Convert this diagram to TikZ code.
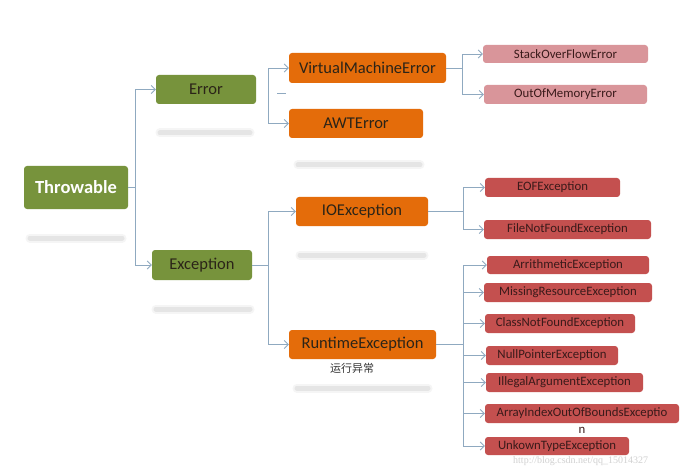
\documentclass[tikz,border=0pt]{standalone}
\usepackage{fontspec}
\setmainfont{Carlito}
\newfontfamily\cjk{Noto Sans CJK SC}
\newfontfamily\wmfont{Liberation Serif}
\usetikzlibrary{arrows.meta}
\definecolor{cgreen}{HTML}{77933C}
\definecolor{corange}{HTML}{E46C0A}
\definecolor{cpink}{HTML}{D9959A}
\definecolor{cred}{HTML}{C4504F}
\definecolor{cline}{HTML}{8FA9C0}
\definecolor{ctext}{HTML}{2B2418}
\definecolor{cleaf}{HTML}{3A1A1A}
\tikzset{
  box/.style={rounded corners=3pt, inner sep=0pt, align=center},
  greenbox/.style={box, fill=cgreen, text=ctext, font=\fontsize{16.5}{18}\selectfont},
  orangebox/.style={box, fill=corange, text=ctext, font=\fontsize{16.5}{18}\selectfont},
  pinkbox/.style={box, fill=cpink, text=cleaf, font=\fontsize{12.8}{14}\selectfont},
  redbox/.style={box, fill=cred, text=cleaf, font=\fontsize{12.8}{14}\selectfont},
  conn/.style={draw=cline, line width=0.9pt},
  arr/.style={conn, -{Straight Barb[length=4pt,width=8pt]}},
  sbar/.style={line cap=round}
}
\begin{document}
\begin{tikzpicture}[x=1pt,y=-1pt]
\useasboundingbox[fill=white] (0,0) rectangle (692,470);
% soft reflections
\foreach \xa/\xb/\yy in {30/122/238, 160/250/133, 156/250/309, 298/420/165, 300/424/255, 297/428/388}{
  \draw[sbar, line width=9pt, gray!8] (\xa,\yy) -- (\xb,\yy);
  \draw[sbar, line width=5pt, gray!20] (\xa,\yy) -- (\xb,\yy);
}
% nodes
\node[greenbox, minimum width=104pt, minimum height=43pt, text=white, font=\fontsize{18.5}{20}\selectfont\bfseries] (throw) at (76,187.5) {Throwable};
\node[greenbox, minimum width=100pt, minimum height=29pt] (error) at (206,89.5) {Error};
\node[greenbox, minimum width=100pt, minimum height=30pt] (exc) at (202,265) {Exception};
\node[orangebox, minimum width=157pt, minimum height=30pt] (vme) at (367.5,68) {VirtualMachineError};
\node[orangebox, minimum width=134pt, minimum height=29pt] (awt) at (356,123.5) {AWTError};
\node[orangebox, minimum width=132pt, minimum height=29pt] (io) at (362,211.5) {IOException};
\node[orangebox, minimum width=147pt, minimum height=29pt] (rt) at (362.5,344.5) {RuntimeException};
\node[font=\cjk\fontsize{11}{12}\selectfont, text=black!80] (rtlabel) at (352,368) {运行异常};
\node[pinkbox, minimum width=165pt, minimum height=18pt] (sofe) at (565.5,54) {StackOverFlowError};
\node[pinkbox, minimum width=163pt, minimum height=19pt] (oome) at (565.5,94.5) {OutOfMemoryError};
\node[redbox, minimum width=135pt, minimum height=19pt] (eof) at (552.5,187.5) {EOFException};
\node[redbox, minimum width=167pt, minimum height=19pt] (fnf) at (567.5,229.5) {FileNotFoundException};
\node[redbox, minimum width=162pt, minimum height=18pt] (arith) at (568,265) {ArrithmeticException};
\node[redbox, minimum width=168pt, minimum height=19pt] (miss) at (568,292.5) {MissingResourceException};
\node[redbox, minimum width=150pt, minimum height=19pt] (cnf) at (560,323.5) {ClassNotFoundException};
\node[redbox, minimum width=132pt, minimum height=19pt] (npe) at (552,355.5) {NullPointerException};
\node[redbox, minimum width=157pt, minimum height=19pt] (iae) at (564.5,382.5) {IllegalArgumentException};
\node[redbox, minimum width=194pt, minimum height=19pt] (aio) at (582,413.5) {ArrayIndexOutOfBoundsExceptio};
\node[font=\fontsize{12.8}{14}\selectfont, text=cleaf] (aion) at (582,430) {n};
\node[redbox, minimum width=144pt, minimum height=18pt] (ute) at (557,446) {UnkownTypeException};
\node[font=\wmfont\fontsize{10}{11}\selectfont, text=black!18, anchor=west, inner sep=1pt] (wm) at (512,461) {http://blog.csdn.net/qq\_15014327};
% junctions
\coordinate (tj) at (135,187.5);
\coordinate (ej) at (268,96);
\coordinate (d1) at (277,93);
\coordinate (d2) at (286,93);
\coordinate (xj) at (268,265);
\coordinate (vj) at (462,68);
\coordinate (ij) at (463,211.5);
\coordinate (rj) at (463,344.5);
% connectors
\draw[conn] (throw.east) -- (tj);
\draw[arr] (tj) |- (error.west);
\draw[arr] (tj) |- (exc.west);
\draw[arr] (ej) |- (vme.west);
\draw[arr] (ej) |- (awt.west);
\draw[conn] (d1) -- (d2);
\draw[conn] (exc.east) -- (xj);
\draw[arr] (xj) |- (io.west);
\draw[arr] (xj) |- (rt.west);
\draw[conn] (vme.east) -- (vj);
\draw[arr] (vj) |- (sofe.west);
\draw[arr] (vj) |- (oome.west);
\draw[conn] (io.east) -- (ij);
\draw[arr] (ij) |- (eof.west);
\draw[arr] (ij) |- (fnf.west);
\draw[conn] (rt.east) -- (rj);
\foreach \t in {arith,miss,cnf,npe,iae,aio,ute}{
  \draw[arr] (rj) |- (\t.west);
}
\end{tikzpicture}
\end{document}
